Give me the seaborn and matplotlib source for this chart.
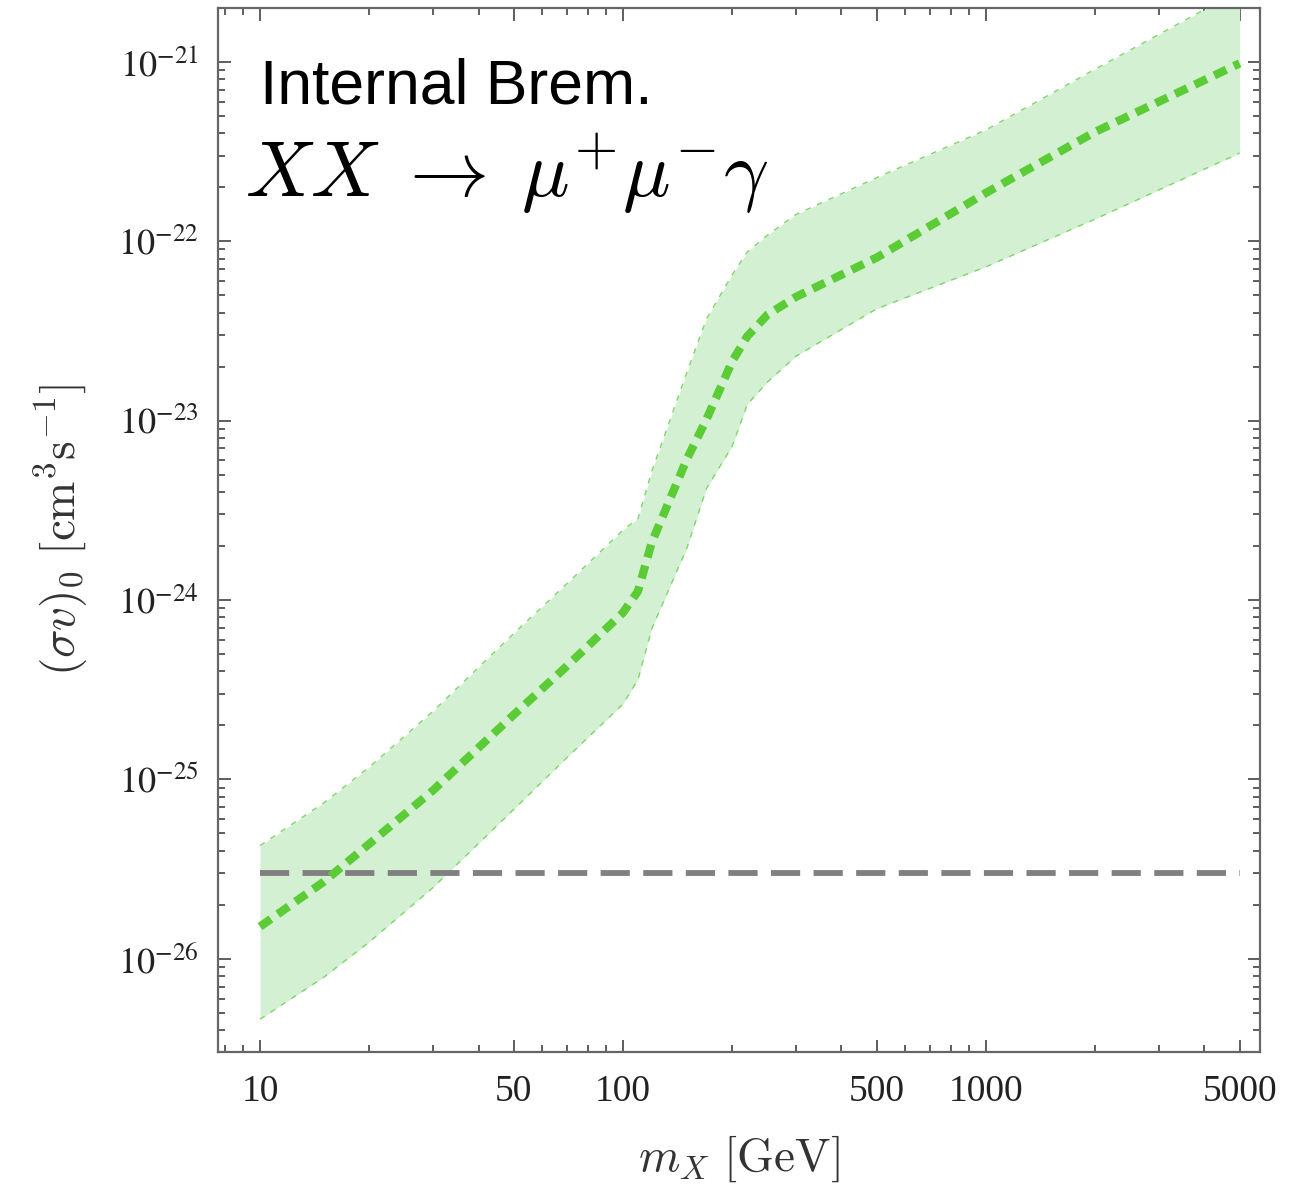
import numpy as np
import pandas as pd
import matplotlib
matplotlib.use("Agg")
import matplotlib.pyplot as plt
import seaborn as sns
from matplotlib.ticker import FixedLocator, LogLocator, NullFormatter, FixedFormatter

# ---------------- data ----------------
mass = [10, 15, 20, 30, 50, 70, 100, 110, 120, 150, 170, 200, 220, 250, 300, 500, 1000, 2000, 5000]
sigv_central = [1.51e-26, 2.69e-26, 4.37e-26, 8.7e-26, 2.29e-25, 4.27e-25, 8.5e-25, 1.12e-24,
                2.09e-24, 6.1e-24, 1.02e-23, 2.14e-23, 2.95e-23, 3.89e-23, 4.9e-23, 8.1e-23,
                1.86e-22, 4.07e-22, 9.8e-22]
sigv_upper = [4.27e-26, 7.4e-26, 1.17e-25, 2.4e-25, 6.5e-25, 1.23e-24, 2.45e-24, 2.84e-24,
              5.2e-24, 1.86e-23, 3.7e-23, 6.5e-23, 8.7e-23, 1.08e-22, 1.41e-22, 2.26e-22,
              4.17e-22, 9.1e-22, 2.5e-21]
sigv_lower = [4.6e-27, 7.9e-27, 1.24e-26, 2.5e-26, 6.8e-26, 1.32e-25, 2.63e-25, 3.6e-25,
              6.9e-25, 1.95e-24, 4.2e-24, 7.2e-24, 1.23e-23, 1.64e-23, 2.29e-23, 4.2e-23,
              7.2e-23, 1.33e-22, 3.1e-22]
relic_mass = [10, 5000]
relic_sigv = [3e-26, 3e-26]

x_ticks = [10, 50, 100, 500, 1000, 5000]
x_ticklabels = ["10", "50", "100", "500", "1000", "5000"]
y_ticks = [1e-26, 1e-25, 1e-24, 1e-23, 1e-22, 1e-21]
y_ticklabels = [r"$10^{-26}$", r"$10^{-25}$", r"$10^{-24}$", r"$10^{-23}$", r"$10^{-22}$", r"$10^{-21}$"]

df = pd.DataFrame({"mass": mass, "central": sigv_central})
df_relic = pd.DataFrame({"mass": relic_mass, "sigv": relic_sigv})

# ---------------- style ----------------
sns.set_style("white")
plt.rcParams["font.family"] = ["Liberation Serif", "DejaVu Serif"]
plt.rcParams["mathtext.fontset"] = "stix"

fig = plt.figure(figsize=(13.04, 11.98), dpi=100)
ax = fig.add_axes([218 / 1304, 1 - 1052 / 1198, 1042 / 1304, 1044 / 1198])
ax.set_xscale("log")
ax.set_yscale("log")

green = "#5ccc36"
band_fill = "#d3f0d3"
band_edge = "#7fd66a"

ax.fill_between(mass, sigv_lower, sigv_upper, color=band_fill, linewidth=0, zorder=1)
ax.plot(mass, sigv_upper, color=band_edge, lw=1.0, dashes=(4, 5), zorder=2)
ax.plot(mass, sigv_lower, color=band_edge, lw=1.0, dashes=(4, 5), zorder=2)

sns.lineplot(data=df_relic, x="mass", y="sigv", ax=ax, color="#808080", lw=4.2,
             dashes=False, zorder=3)
ax.lines[-1].set_dashes((5.0, 2.3))
ax.lines[-1].set_dash_capstyle("butt")

sns.lineplot(data=df, x="mass", y="central", ax=ax, color=green, lw=6.0, zorder=4)
ax.lines[-1].set_dashes((1.6, 1.0))
ax.lines[-1].set_dash_capstyle("butt")

ax.set_xlim(7.66, 5690)
ax.set_ylim(10 ** -26.52, 10 ** -20.70)

ax.xaxis.set_major_locator(FixedLocator(x_ticks))
ax.xaxis.set_major_formatter(FixedFormatter(x_ticklabels))
ax.xaxis.set_minor_locator(LogLocator(base=10, subs=np.arange(2, 10)))
ax.xaxis.set_minor_formatter(NullFormatter())
ax.yaxis.set_major_locator(FixedLocator(y_ticks))
ax.yaxis.set_major_formatter(FixedFormatter(y_ticklabels))
ax.yaxis.set_minor_locator(LogLocator(base=10, subs=np.arange(2, 10), numticks=20))
ax.yaxis.set_minor_formatter(NullFormatter())

ax.tick_params(which="both", direction="in", top=True, right=True, bottom=True, left=True,
               color="#333333", width=1.1)
ax.tick_params(which="major", length=9)
ax.tick_params(which="minor", length=5)
ax.tick_params(axis="x", which="major", labelsize=27, pad=16, labelcolor="#222222")
ax.tick_params(axis="y", which="major", labelsize=26, pad=14, labelcolor="#222222")

for s in ax.spines.values():
    s.set_color("#666666")
    s.set_linewidth(1.6)
    s.set_visible(True)

xl = ax.set_xlabel(r"$m_X\ [\mathrm{GeV}]$", fontsize=34, color="#333333", labelpad=18)
xl.set_math_fontfamily("cm")
yl = ax.set_ylabel(r"$(\sigma v)_0\ [\mathrm{cm}^3\mathrm{s}^{-1}]$", fontsize=34,
                   color="#333333", labelpad=20)
yl.set_math_fontfamily("cm")

ax.text(0.040, 0.909, "Internal Brem.", transform=ax.transAxes, fontsize=45,
        family=["Liberation Sans", "DejaVu Sans"], va="baseline", ha="left", color="black")
ax.text(0.026, 0.819, r"$XX\;\rightarrow\;\mu^{+}\mu^{-}\gamma$", transform=ax.transAxes,
        fontsize=57, math_fontfamily="cm", va="baseline", ha="left", color="black")

fig.savefig("out.png", dpi=100)
